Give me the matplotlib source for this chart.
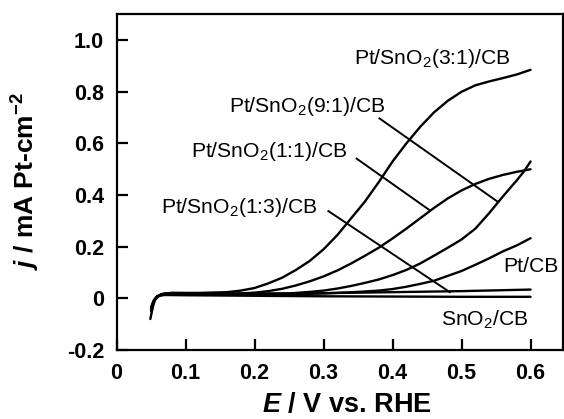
import matplotlib
matplotlib.use("Agg")
import matplotlib.pyplot as plt

plt.rcParams['font.family'] = ['Liberation Sans', 'DejaVu Sans']
plt.rcParams['mathtext.fontset'] = 'custom'
plt.rcParams['mathtext.rm'] = 'Liberation Sans'
plt.rcParams['mathtext.it'] = 'Liberation Sans:italic:bold'
plt.rcParams['mathtext.bf'] = 'Liberation Sans:bold'

# ---- data ----
E_31 = [0.050, 0.053, 0.058, 0.065, 0.08, 0.12, 0.16, 0.18, 0.20, 0.22, 0.24, 0.26, 0.28, 0.30,
        0.32, 0.34, 0.36, 0.38, 0.40, 0.42, 0.44, 0.46, 0.48, 0.50, 0.52, 0.54, 0.56, 0.58, 0.60]
j_31 = [-0.05, -0.015, 0.006, 0.016, 0.021, 0.021, 0.024, 0.030, 0.040, 0.058, 0.080, 0.110, 0.145, 0.190,
        0.245, 0.310, 0.375, 0.450, 0.530, 0.600, 0.664, 0.720, 0.765, 0.800, 0.825, 0.840, 0.853, 0.867, 0.885]

E_91 = [0.051, 0.054, 0.059, 0.066, 0.08, 0.15, 0.20, 0.25, 0.28, 0.30, 0.32, 0.34, 0.36, 0.38, 0.40,
        0.42, 0.44, 0.46, 0.48, 0.50, 0.52, 0.54, 0.56, 0.58, 0.59, 0.60]
j_91 = [-0.04, -0.01, 0.007, 0.016, 0.020, 0.018, 0.017, 0.019, 0.025, 0.030, 0.038, 0.048, 0.060, 0.073, 0.090,
        0.110, 0.135, 0.165, 0.196, 0.228, 0.270, 0.330, 0.395, 0.457, 0.490, 0.530]

E_11 = [0.050, 0.054, 0.059, 0.066, 0.08, 0.15, 0.18, 0.20, 0.22, 0.24, 0.26, 0.28, 0.30, 0.32, 0.34, 0.36,
        0.38, 0.40, 0.42, 0.44, 0.46, 0.48, 0.50, 0.52, 0.54, 0.56, 0.58, 0.60]
j_11 = [-0.045, -0.012, 0.006, 0.017, 0.021, 0.018, 0.019, 0.022, 0.028, 0.037, 0.050, 0.066, 0.085, 0.108, 0.135, 0.165,
        0.196, 0.232, 0.270, 0.310, 0.350, 0.387, 0.418, 0.443, 0.463, 0.478, 0.490, 0.500]

E_13 = [0.051, 0.055, 0.060, 0.068, 0.08, 0.2, 0.3, 0.4, 0.5, 0.6]
j_13 = [-0.03, -0.005, 0.008, 0.016, 0.019, 0.018, 0.020, 0.024, 0.028, 0.034]

E_pt = [0.050, 0.054, 0.059, 0.066, 0.08, 0.15, 0.25, 0.30, 0.35, 0.38, 0.40, 0.42, 0.44, 0.46, 0.48,
        0.50, 0.52, 0.54, 0.56, 0.58, 0.60]
j_pt = [-0.035, -0.008, 0.008, 0.016, 0.020, 0.017, 0.016, 0.019, 0.025, 0.030, 0.036, 0.045, 0.056, 0.068, 0.087,
        0.106, 0.130, 0.155, 0.182, 0.205, 0.233]

E_sn = [0.049, 0.051, 0.053, 0.056, 0.062, 0.07, 0.1, 0.2, 0.3, 0.4, 0.5, 0.6]
j_sn = [-0.08, -0.055, -0.03, -0.005, 0.010, 0.013, 0.012, 0.010, 0.008, 0.007, 0.006, 0.006]

series = [(E_31, j_31), (E_91, j_91), (E_11, j_11), (E_13, j_13), (E_pt, j_pt), (E_sn, j_sn)]

labels = ["Pt/SnO$_2$(3:1)/CB", "Pt/SnO$_2$(9:1)/CB", "Pt/SnO$_2$(1:1)/CB",
          "Pt/SnO$_2$(1:3)/CB", "Pt/CB", "SnO$_2$/CB"]
label_x = [0.457, 0.277, 0.221, 0.1775, 0.601, 0.533]
label_y = [0.906, 0.722, 0.548, 0.331, 0.102, -0.105]

# leader lines: (x0, y0, x1, y1)
leader_91 = [0.381, 0.697, 0.553, 0.373]
leader_11 = [0.348, 0.541, 0.454, 0.341]
leader_13 = [0.307, 0.338, 0.483, 0.024]

x_ticks = [0, 0.1, 0.2, 0.3, 0.4, 0.5, 0.6]
x_ticklabels = ["0", "0.1", "0.2", "0.3", "0.4", "0.5", "0.6"]
y_ticks = [-0.2, 0, 0.2, 0.4, 0.6, 0.8, 1.0]
y_ticklabels = ["-0.2", "0", "0.2", "0.4", "0.6", "0.8", "1.0"]

# ---- figure ----
fig = plt.figure(figsize=(5.64, 4.19), dpi=100)
ax = fig.add_axes([116.5 / 564, 1 - 350 / 419, (563 - 116.5) / 564, (350 - 14.3) / 419])

for E, j in series:
    ax.plot(E, j, color='black', lw=1.7, solid_joinstyle='round', solid_capstyle='round')

for (x0, y0, x1, y1) in [leader_91, leader_11, leader_13]:
    ax.plot([x0, x1], [y0, y1], color='black', lw=1.4)

for t, x, y in zip(labels, label_x, label_y):
    ax.text(x, y, t, ha='center', va='baseline', fontsize=15.2, color='black')

ax.set_xlim(0, 0.647)
ax.set_ylim(-0.2, 1.1)
ax.set_xticks(x_ticks)
ax.set_xticklabels(x_ticklabels)
ax.set_yticks(y_ticks)
ax.set_yticklabels(y_ticklabels)
ax.tick_params(direction='in', length=8, width=1.6, labelsize=15.5, pad=9)
for lab in ax.get_xticklabels() + ax.get_yticklabels():
    lab.set_fontweight('bold')
for s in ax.spines.values():
    s.set_linewidth(1.6)

fig.text(346.5 / 564, 1 - 412 / 419, "$E$ / V vs. RHE", ha='center', va='baseline',
         fontsize=19.5, fontweight='bold')
fig.text(26 / 564, 1 - 181 / 419, "$j$ / mA Pt-cm$^{\\mathbf{-2}}$", ha='center', va='center',
         rotation=90, fontsize=19, fontweight='bold')

fig.savefig("out.png", dpi=100)
